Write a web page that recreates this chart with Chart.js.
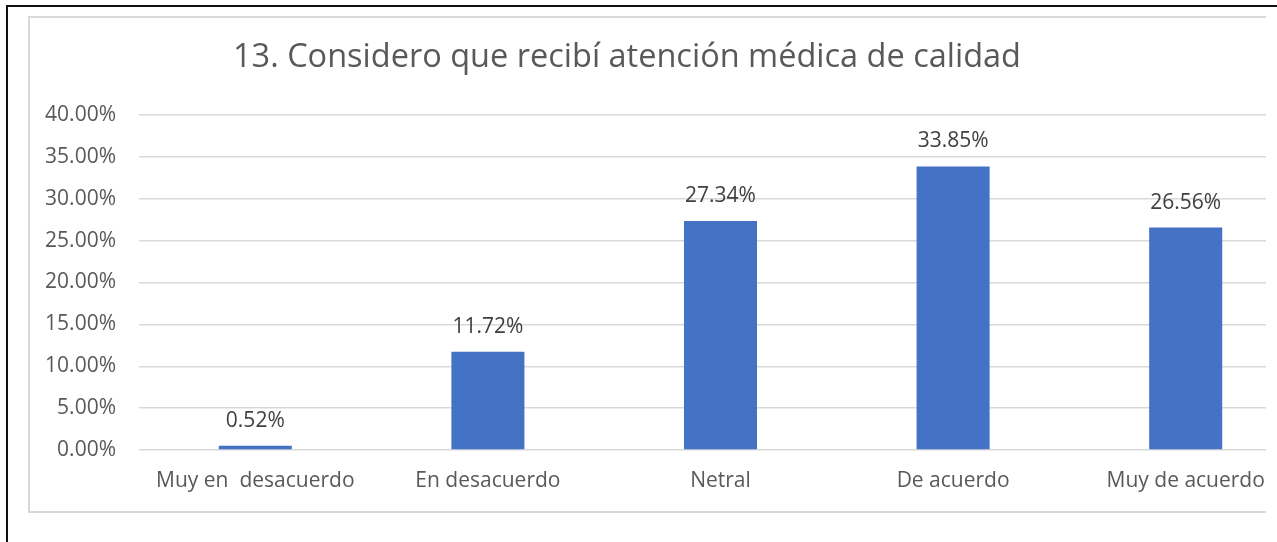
<!DOCTYPE html>
<html>
<head>
<meta charset="utf-8">
<script src="https://cdn.jsdelivr.net/npm/chart.js@4/dist/chart.umd.min.js"></script>
<style>
  html, body { margin: 0; padding: 0; background: #fff; width: 1277px; height: 542px; overflow: hidden; position: relative; }
  #outer { position: absolute; left: 6px; top: 5px; width: 1400px; height: 600px; border-left: 2px solid #111; border-top: 2px solid #111; box-sizing: border-box; }
  #box { position: absolute; left: 28px; top: 16px; width: 1300px; height: 497px; border: 2px solid #d9d9d9; box-sizing: border-box; }
  #wrap { position: absolute; left: 0; top: 0; width: 1310px; height: 542px; }
  #cover { position: absolute; left: 1266px; top: 12px; width: 40px; height: 540px; background: #fff; }
</style>
</head>
<body>
<div id="outer"></div>
<div id="box"></div>
<div id="wrap"><canvas id="c"></canvas></div>
<div id="cover"></div>
<script>
const categories = ["Muy en  desacuerdo", "En desacuerdo", "Netral", "De acuerdo", "Muy de acuerdo"];
const values = [0.52, 11.72, 27.34, 33.85, 26.56];
const valueLabels = ["0.52%", "11.72%", "27.34%", "33.85%", "26.56%"];
const yTicks = [0, 5, 10, 15, 20, 25, 30, 35, 40];
const titleText = "13. Considero que recibí atención médica de calidad";

const FONT = "'Open Sans', 'Noto Sans', sans-serif";

const dataLabels = {
  id: 'dataLabels',
  afterDatasetsDraw(chart) {
    const ctx = chart.ctx;
    const meta = chart.getDatasetMeta(0);
    ctx.save();
    ctx.font = "21px " + FONT;
    ctx.fillStyle = "#404040";
    ctx.textAlign = "center";
    ctx.textBaseline = "middle";
    meta.data.forEach((bar, i) => {
      ctx.fillText(valueLabels[i], bar.x, bar.y - 25);
    });
    ctx.restore();
  }
};

// Center the title over the visible (cropped) chart frame
const titleShift = {
  id: 'titleShift',
  afterLayout(chart) {
    if (chart.titleBlock) {
      chart.titleBlock.left = 0;
      chart.titleBlock.right = 1254;
    }
  }
};

new Chart(document.getElementById('c'), {
  type: 'bar',
  data: {
    labels: categories,
    datasets: [{
      data: values,
      backgroundColor: '#4472C4',
      borderWidth: 0,
      barPercentage: 0.314,
      categoryPercentage: 1.0
    }]
  },
  options: {
    responsive: true,
    maintainAspectRatio: false,
    animation: false,
    devicePixelRatio: 1,
    layout: { padding: { left: 0, right: 8, top: 0, bottom: 0 } },
    plugins: {
      legend: { display: false },
      tooltip: { enabled: false },
      title: {
        display: true,
        text: titleText,
        color: '#595959',
        font: { family: FONT, size: 32.5, weight: 'normal', lineHeight: 1.2 },
        padding: { top: 38, bottom: 38 },
        align: 'center',
        fullSize: true
      }
    },
    scales: {
      x: {
        grid: { display: false, drawTicks: false },
        border: { display: false },
        ticks: { color: '#595959', font: { family: FONT, size: 21 }, padding: 18, maxRotation: 0, autoSkip: false },
        afterFit(scale) { scale.height = 92; }
      },
      y: {
        min: 0, max: 40,
        afterBuildTicks(scale) { scale.ticks = yTicks.map(v => ({ value: v })); },
        grid: { color: '#d9d9d9', lineWidth: 1.5, drawTicks: false },
        border: { display: false },
        ticks: {
          color: '#595959',
          font: { family: FONT, size: 21 },
          padding: 23,
          callback: v => v.toFixed(2) + '%'
        },
        afterFit(scale) { scale.width = 139; }
      }
    }
  },
  plugins: [dataLabels, titleShift]
});
</script>
</body>
</html>
